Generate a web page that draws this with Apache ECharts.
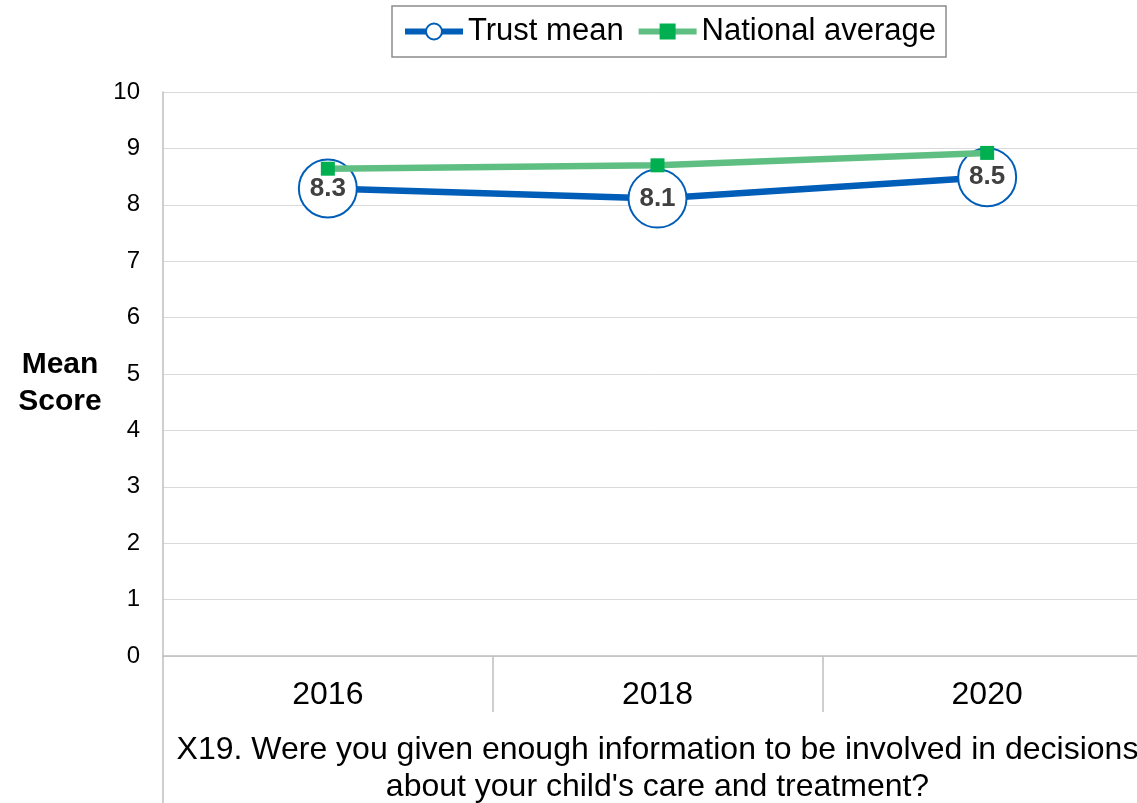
<!DOCTYPE html>
<html>
<head>
<meta charset="utf-8">
<script src="https://cdn.jsdelivr.net/npm/echarts@6/dist/echarts.min.js"></script>
<style>
  html, body { margin: 0; padding: 0; background: #fff; }
  #chart { width: 1137px; height: 803px; }
</style>
</head>
<body>
<div id="chart"></div>
<script>
// ===== data =====
const years = ['2016', '2018', '2020'];
const trustMean = [8.29, 8.11, 8.49];
const nationalAvg = [8.64, 8.70, 8.92];
const question = "X19. Were you given enough information to be involved in decisions\nabout your child's care and treatment?";

const FONT = '"Liberation Sans", Arial, sans-serif';

const chart = echarts.init(document.getElementById('chart'));
chart.setOption({
  animation: false,
  textStyle: { fontFamily: FONT },
  legend: {
    left: 392,
    top: 6,
    padding: [10, 10, 10, 10],
    itemGap: 12,
    itemWidth: 58,
    itemHeight: 20,
    borderColor: '#8c8c8c',
    borderWidth: 1.5,
    lineStyle: { width: 6 },
    textStyle: { fontSize: 31, color: '#000', fontFamily: FONT },
    data: ['Trust mean', 'National average']
  },
  // plot runs a little past the right edge, as in the source picture
  grid: { left: 163, width: 989, top: 92, bottom: 147, outerBoundsMode: 'none' },
  xAxis: [
    {
      type: 'category',
      data: years,
      boundaryGap: true,
      axisLine: { show: true, lineStyle: { color: '#bfbfbf', width: 1.5 } },
      axisTick: { show: true, length: 56, interval: 0, lineStyle: { color: '#bfbfbf', width: 1.5 } },
      axisLabel: { color: '#000', fontSize: 32, margin: 23 }
    },
    {
      type: 'category',
      data: [question],
      position: 'bottom',
      boundaryGap: true,
      axisLine: { show: false },
      axisTick: { show: true, length: 150, lineStyle: { color: '#bfbfbf', width: 1.5 } },
      axisLabel: { color: '#000', fontSize: 32, margin: 76, lineHeight: 37, interval: 0 }
    }
  ],
  yAxis: {
    type: 'value',
    min: 0,
    max: 10,
    interval: 1,
    // small empty first line nudges the two-line title a bit below the middle
    name: '{s| }\n{b|Mean}\n{b|Score}',
    nameLocation: 'middle',
    nameRotate: 0,
    nameGap: 103,
    nameTextStyle: {
      align: 'center',
      rich: {
        s: { fontSize: 10, lineHeight: 19 },
        b: { fontSize: 30, fontWeight: 'bold', color: '#000', lineHeight: 37, fontFamily: FONT }
      }
    },
    axisLine: { show: true, lineStyle: { color: '#bfbfbf', width: 1.5 } },
    axisTick: { show: false },
    axisLabel: { color: '#000', fontSize: 24, margin: 23 },
    splitLine: { lineStyle: { color: '#d9d9d9', width: 1 } }
  },
  series: [
    {
      name: 'Trust mean',
      type: 'line',
      xAxisIndex: 0,
      data: trustMean,
      symbol: 'circle',
      symbolSize: 58,
      lineStyle: { color: '#005EB8', width: 6.5 },
      itemStyle: { color: '#fff', borderColor: '#005EB8', borderWidth: 2 },
      label: {
        show: true,
        position: 'inside',
        fontSize: 26,
        fontWeight: 'bold',
        color: '#404040',
        formatter: p => p.value.toFixed(1)
      },
      z: 2
    },
    {
      name: 'National average',
      type: 'line',
      xAxisIndex: 0,
      data: nationalAvg,
      symbol: 'rect',
      symbolSize: 14,
      lineStyle: { color: '#5FBF82', width: 6.5 },
      itemStyle: { color: '#00B050', borderWidth: 0 },
      z: 3
    }
  ]
});
</script>
</body>
</html>
